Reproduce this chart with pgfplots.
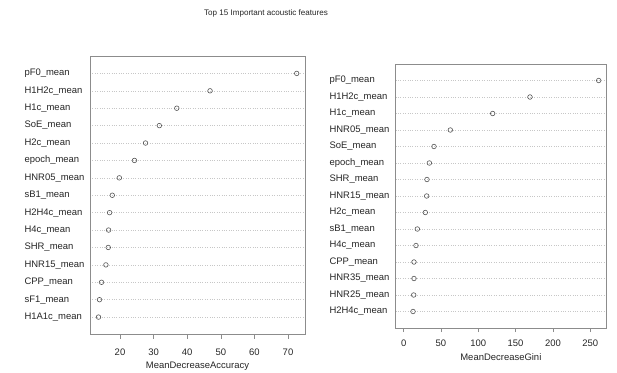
\documentclass[border=0pt]{standalone}
\usepackage{pgfplots}
\pgfplotsset{compat=1.18}
\usepackage{fontspec}
\setmainfont{Liberation Sans}
\definecolor{framec}{HTML}{8C8C8C}
\definecolor{ptc}{HTML}{555555}
\pgfplotsset{dotstyle/.style={
  scale only axis,
  anchor=south west,
  ymin=0, ymax=16,
  ytick={1,...,15},
  axis line style={framec, line width=0.6pt},
  ymajorgrids,
  grid style={dotted, black!22, line width=0.5pt},
  xtick pos=bottom,
  ytick style={draw=none},
  xtick style={framec, line width=0.6pt},
  tick align=outside,
  major tick length=4bp,
  yticklabel style={anchor=west, font=\fontsize{9.5}{11}\selectfont, text=black!85},
  xticklabel style={font=\fontsize{9.5}{11}\selectfont, text=black!85},
  /pgf/number format/assume math mode=true,
  xlabel style={font=\fontsize{9.5}{11}\selectfont, text=black!85, at={(axis description cs:0.5,0)}, anchor=center},
}}
\tikzset{dots/.style={only marks, mark=o, mark size=2.3bp, draw=ptc, line width=0.6pt, mark options={draw=ptc, fill=none}}}
\begin{document}
\begin{tikzpicture}[x=1bp,y=1bp]
\path[use as bounding box] (0,0) rectangle (617,372);
\node[font=\fontsize{8.1}{9}\selectfont, text=black!85] at (266,359) {Top 15 Important acoustic features};

\begin{axis}[dotstyle,
  at={(90bp,37.5bp)}, width=215bp, height=278.5bp,
  xmin=11.07, xmax=75.06,
  xtick={20,30,...,70},
  yticklabel style={xshift=-65bp},
  xticklabel style={yshift=-6.5bp},
  yticklabels={H1A1c\_mean, sF1\_mean, CPP\_mean, HNR15\_mean, SHR\_mean, H4c\_mean, H2H4c\_mean, sB1\_mean, HNR05\_mean, epoch\_mean, H2c\_mean, SoE\_mean, H1c\_mean, H1H2c\_mean, pF0\_mean},
  xlabel={MeanDecreaseAccuracy},
  xlabel style={yshift=-32bp},
]
\addplot[dots] coordinates {
(13.6,1) (13.9,2) (14.5,3) (15.8,4) (16.5,5) (16.6,6) (16.9,7) (17.7,8)
(19.8,9) (24.3,10) (27.6,11) (31.7,12) (36.9,13) (46.8,14) (72.6,15)};
\end{axis}

\begin{axis}[dotstyle,
  at={(395.7bp,44bp)}, width=210.3bp, height=264bp,
  xmin=-10.7, xmax=271.2,
  xtick={0,50,...,250},
  yticklabel style={xshift=-65.7bp},
  xticklabel style={yshift=-4.7bp},
  yticklabels={H2H4c\_mean, HNR25\_mean, HNR35\_mean, CPP\_mean, H4c\_mean, sB1\_mean, H2c\_mean, HNR15\_mean, SHR\_mean, epoch\_mean, SoE\_mean, HNR05\_mean, H1c\_mean, H1H2c\_mean, pF0\_mean},
  xlabel={MeanDecreaseGini},
  xlabel style={yshift=-29.5bp},
]
\addplot[dots] coordinates {
(12.5,1) (13.4,2) (13.8,3) (13.8,4) (16.5,5) (18.3,6) (29.0,7) (30.8,8)
(31.2,9) (34.4,10) (40.6,11) (62.5,12) (119.3,13) (169.3,14) (261.4,15)};
\end{axis}
\end{tikzpicture}
\end{document}
